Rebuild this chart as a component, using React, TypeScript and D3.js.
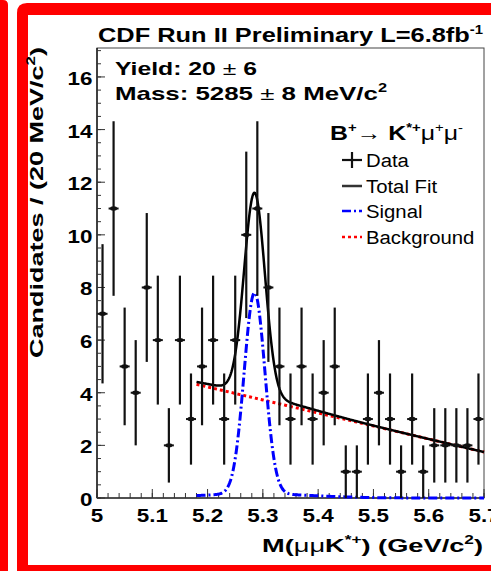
import React from "react";
import * as d3 from "d3";

// Invariant-mass histogram: 35 bins of 20 MeV/c^2 between 5.0 and 5.7 GeV/c^2
const massLow = 5.0;
const massHigh = 5.7;
const binWidth = 0.02;
const binCounts = [
  7, 11, 5, 4, 8, 6, 2, 6, 3, 5, 6, 3, 6, 10, 11, 8, 5, 3, 5, 3, 4, 5, 1, 1, 3,
  4, 3, 1, 3, 1, 2, 2, 2, 2, 3,
];

// Unbinned fit result (signal = narrow core + wide tail Gaussian, linear background)
const fitRange = [5.18, 5.7];
const signalYield = 20;
const signalMass = 5.285;
const coreFraction = 0.9;
const coreSigma = 0.0188;
const tailSigma = 0.1;
const bkgAtFitLow = 4.32;
const bkgSlope = -4.95;

const xTickValues = [5, 5.1, 5.2, 5.3, 5.4, 5.5, 5.6, 5.7];
const xTickLabels = ["5", "5.1", "5.2", "5.3", "5.4", "5.5", "5.6", "5.7"];
const yTickValues = [0, 2, 4, 6, 8, 10, 12, 14, 16];
const yTickLabels = ["0", "2", "4", "6", "8", "10", "12", "14", "16"];
const legendLabels = ["Data", "Total Fit", "Signal", "Background"];

const FONT = "'Liberation Sans', Arial, Helvetica, sans-serif";
const RED = "#ff0000";
const BLUE = "#0000ff";

function Stretch({ x, y, sx, anchor = "start", size, weight = "normal", children }: any) {
  return (
    <g transform={`translate(${x},${y}) scale(${sx},1)`}>
      <text textAnchor={anchor} fontSize={size} fontWeight={weight} fontFamily={FONT} fill="#000">
        {children}
      </text>
    </g>
  );
}

export default function App() {
  const W = 491;
  const H = 571;
  const x = d3.scaleLinear().domain([massLow, massHigh]).range([97, 484]);
  const y = d3.scaleLinear().domain([0, 17.1]).range([498, 48]);

  const gauss = (m: number, mu: number, s: number) =>
    Math.exp(-0.5 * ((m - mu) / s) ** 2) / (s * Math.sqrt(2 * Math.PI));
  const signal = (m: number) =>
    signalYield *
    binWidth *
    (coreFraction * gauss(m, signalMass, coreSigma) +
      (1 - coreFraction) * gauss(m, signalMass, tailSigma));
  const background = (m: number) => bkgAtFitLow + bkgSlope * (m - fitRange[0]);

  const grid = d3.range(0, 521).map((i) => fitRange[0] + ((fitRange[1] - fitRange[0]) * i) / 520);
  const line = d3
    .line<number>()
    .x((m) => x(m));
  const totalPath = line.y((m) => y(signal(m) + background(m)))(grid) || "";
  const signalPath = line.y((m) => y(signal(m)))(grid) || "";
  const bkgPath = line.y((m) => y(background(m)))(grid) || "";

  const [x0, x1] = x.range();
  const [yB, yT] = y.range();

  const xMinor = d3.range(0, 36).map((i) => massLow + i * binWidth);
  const yMinor = d3.range(0, 35).map((i) => i * 0.5);

  const points = binCounts.map((c, i) => ({
    m: massLow + (i + 0.5) * binWidth,
    c,
    err: Math.sqrt(c),
  }));

  const legendX = 342;
  const legendY = [160, 186, 211, 237];

  return (
    <svg
      width={W}
      height={H}
      viewBox={`0 0 ${W} ${H}`}
      style={{ position: "absolute", left: 0, top: 0, background: "#fff" }}
      fontFamily={FONT}
    >
      <rect x={0} y={0} width={W} height={H} fill="#fff" />
      {/* red page border */}
      <path d="M0,0 H3 Q8,0 8,5 V571 H0 Z" fill={RED} />
      <path
        d="M17,13 Q17,3 27,3 H495 V575 H17 Z M28,15 V565 H495 V15 Z"
        fill={RED}
        fillRule="evenodd"
      />

      {/* frame */}
      <rect x={x0} y={yT} width={x1 - x0} height={yB - yT} fill="none" stroke="#444" strokeWidth={1} />
      <line x1={x0} x2={x1} y1={yB} y2={yB} stroke="#000" strokeWidth={1.2} />
      <line x1={x0} x2={x0} y1={yB} y2={yT} stroke="#000" strokeWidth={1.2} />

      {/* x ticks */}
      {xMinor.map((m, i) => (
        <line key={"xm" + i} x1={x(m)} x2={x(m)} y1={yB} y2={yB - 5} stroke="#333" strokeWidth={1} />
      ))}
      {xTickValues.map((m, i) => (
        <line key={"xM" + i} x1={x(m)} x2={x(m)} y1={yB} y2={yB - 9} stroke="#333" strokeWidth={1} />
      ))}
      {/* y ticks */}
      {yMinor.map((v, i) => (
        <line key={"ym" + i} x1={x0} x2={x0 + 4} y1={y(v)} y2={y(v)} stroke="#333" strokeWidth={1} />
      ))}
      {yTickValues.map((v, i) => (
        <line key={"yM" + i} x1={x0} x2={x0 + 8} y1={y(v)} y2={y(v)} stroke="#333" strokeWidth={1} />
      ))}

      {/* tick labels */}
      {xTickValues.map((m, i) => (
        <Stretch key={"xl" + i} x={x(m)} y={522} sx={1.18} anchor="middle" size={19} weight="bold">
          {xTickLabels[i]}
        </Stretch>
      ))}
      {yTickValues.map((v, i) => (
        <Stretch key={"yl" + i} x={92.5} y={y(v) + 8} sx={1.18} anchor="end" size={19} weight="bold">
          {yTickLabels[i]}
        </Stretch>
      ))}

      {/* axis titles */}
      <text
        x={483}
        y={552}
        textAnchor="end"
        fontSize={19}
        fontWeight="bold"
        textLength={221}
        lengthAdjust="spacingAndGlyphs"
      >
        M(<tspan fontWeight="normal">μμ</tspan>K<tspan dy={-8} fontSize={12}>*+</tspan>
        <tspan dy={8}>) (GeV/c</tspan>
        <tspan dy={-8} fontSize={12}>2</tspan>
        <tspan dy={8}>)</tspan>
      </text>
      <text
        transform="translate(43,358) rotate(-90)"
        fontSize={19}
        fontWeight="bold"
        textLength={311}
        lengthAdjust="spacingAndGlyphs"
      >
        Candidates / (20 MeV/c<tspan dy={-8} fontSize={12}>2</tspan>
        <tspan dy={8}>)</tspan>
      </text>

      {/* title */}
      <text x={98} y={42} fontSize={20.5} fontWeight="bold" textLength={385} lengthAdjust="spacingAndGlyphs">
        CDF Run II Preliminary L=6.8fb<tspan dy={-8} fontSize={12}>-1</tspan>
      </text>

      {/* fit summary */}
      <text x={115} y={75} fontSize={19} fontWeight="bold" textLength={142} lengthAdjust="spacingAndGlyphs">
        Yield: 20 <tspan fontWeight="normal">±</tspan> 6
      </text>
      <text x={115} y={100} fontSize={19} fontWeight="bold" textLength={272} lengthAdjust="spacingAndGlyphs">
        Mass: 5285 <tspan fontWeight="normal">±</tspan> 8 MeV/c<tspan dy={-8} fontSize={12}>2</tspan>
      </text>

      {/* fit curves */}
      <path d={bkgPath} fill="none" stroke={RED} strokeWidth={3} strokeDasharray="3 3" />
      <path d={signalPath} fill="none" stroke={BLUE} strokeWidth={3} strokeDasharray="9 3 2 3" />
      <path d={totalPath} fill="none" stroke="#000" strokeWidth={2.5} />

      {/* data points */}
      {points.map((p, i) => {
        const cx = x(p.m);
        return (
          <g key={"pt" + i}>
            <line
              x1={cx}
              x2={cx}
              y1={y(Math.max(0, p.c - p.err))}
              y2={y(p.c + p.err)}
              stroke="#111"
              strokeWidth={2.2}
            />
            <line x1={cx - 5} x2={cx + 5} y1={y(p.c)} y2={y(p.c)} stroke="#111" strokeWidth={2} />
            <ellipse cx={cx} cy={y(p.c)} rx={3.5} ry={2.2} fill="#111" />
          </g>
        );
      })}

      {/* legend */}
      <text x={330} y={140} fontSize={20} fontWeight="bold" textLength={133} lengthAdjust="spacingAndGlyphs">
        B<tspan dy={-8} fontSize={12}>+</tspan>
        <tspan dy={8} fontWeight="normal">→ </tspan>K<tspan dy={-8} fontSize={12}>*+</tspan>
        <tspan dy={8} fontWeight="normal">μ</tspan>
        <tspan dy={-8} fontSize={12} fontWeight="normal">+</tspan>
        <tspan dy={8} fontWeight="normal">μ</tspan>
        <tspan dy={-8} fontSize={12} fontWeight="normal">-</tspan>
      </text>
      <line x1={legendX} x2={legendX + 20} y1={legendY[0]} y2={legendY[0]} stroke="#111" strokeWidth={2.2} />
      <line x1={legendX + 10} x2={legendX + 10} y1={legendY[0] - 8} y2={legendY[0] + 8} stroke="#111" strokeWidth={2.2} />
      <line x1={legendX} x2={legendX + 20} y1={legendY[1]} y2={legendY[1]} stroke="#333" strokeWidth={2.5} />
      <line x1={legendX} x2={legendX + 20} y1={legendY[2]} y2={legendY[2]} stroke={BLUE} strokeWidth={2.5} strokeDasharray="9 3 2 3" />
      <line x1={legendX} x2={legendX + 20} y1={legendY[3]} y2={legendY[3]} stroke={RED} strokeWidth={2.5} strokeDasharray="3 3" />
      {legendLabels.map((lab, i) => (
        <Stretch key={"lg" + i} x={366} y={legendY[i] + 7} sx={1.07} size={19} weight="normal">
          {lab}
        </Stretch>
      ))}
    </svg>
  );
}
